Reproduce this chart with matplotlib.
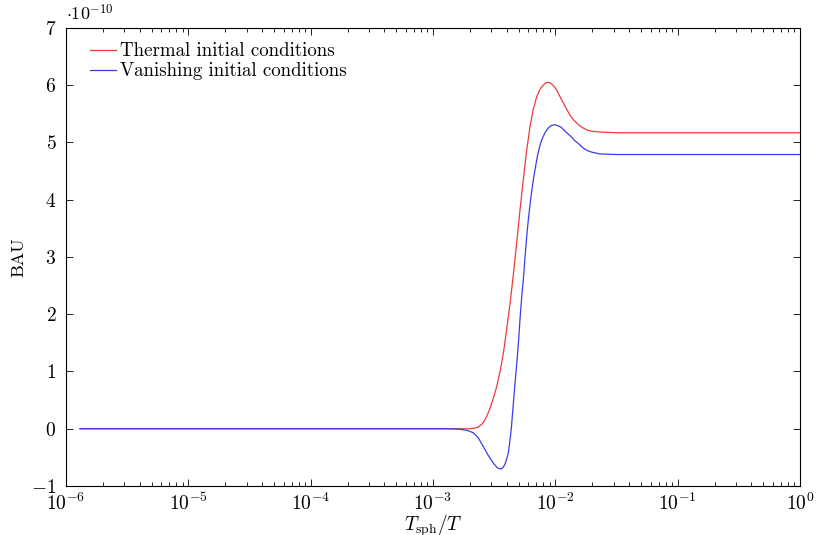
import numpy as np
import matplotlib
matplotlib.use('Agg')
import matplotlib.pyplot as plt

plt.rcParams['font.family'] = ['cmr10', 'DejaVu Serif']
plt.rcParams['mathtext.fontset'] = 'cm'
plt.rcParams['axes.unicode_minus'] = False

# curves: log10(Tsph/T) and BAU in units of 1e-10
red_logx = [-5.886, -2.9, -2.70, -2.66, -2.63, -2.60, -2.58, -2.561, -2.54,
            -2.52, -2.50, -2.479, -2.45, -2.425, -2.40, -2.370, -2.343, -2.316,
            -2.29, -2.262, -2.235, -2.207, -2.18, -2.152, -2.125, -2.10, -2.08,
            -2.062, -2.04, -2.01, -1.985, -1.962, -1.93, -1.90, -1.875, -1.853,
            -1.825, -1.80, -1.77, -1.743, -1.71, -1.68, -1.608, -1.5, 0.0]
red_bau = [0.0, 0.0, 0.0, 0.01, 0.03, 0.08, 0.14, 0.22, 0.32,
           0.45, 0.58, 0.74, 1.02, 1.32, 1.70, 2.19, 2.70, 3.24,
           3.80, 4.35, 4.85, 5.28, 5.58, 5.80, 5.93, 6.00, 6.04,
           6.05, 6.04, 5.98, 5.90, 5.80, 5.67, 5.55, 5.46, 5.40,
           5.34, 5.29, 5.25, 5.22, 5.20, 5.19, 5.18, 5.17, 5.17]

blue_logx = [-5.886, -2.9, -2.82, -2.779, -2.72, -2.670, -2.63, -2.589, -2.55,
             -2.507, -2.475, -2.455, -2.44, -2.425, -2.41, -2.395, -2.384,
             -2.373, -2.36, -2.343, -2.33, -2.315, -2.30, -2.289, -2.275,
             -2.26, -2.247, -2.234, -2.22, -2.205, -2.192, -2.180, -2.16,
             -2.145, -2.128, -2.111, -2.085, -2.06, -2.03, -2.003, -1.975,
             -1.95, -1.93, -1.907, -1.87, -1.84, -1.80, -1.771, -1.73, -1.70,
             -1.635, -1.5, 0.0]
blue_bau = [0.0, 0.0, -0.005, -0.01, -0.03, -0.07, -0.16, -0.31, -0.46,
            -0.60, -0.68, -0.70, -0.70, -0.67, -0.61, -0.51, -0.42,
            -0.24, 0.0, 0.45, 0.78, 1.15, 1.55, 1.91, 2.30,
            2.65, 3.02, 3.36, 3.67, 3.95, 4.17, 4.35, 4.60,
            4.78, 4.93, 5.05, 5.17, 5.25, 5.30, 5.31, 5.29,
            5.26, 5.22, 5.17, 5.10, 5.03, 4.96, 4.90, 4.85, 4.83,
            4.80, 4.79, 4.79]

labels = ['Thermal initial conditions', 'Vanishing initial conditions']
xticks = [1e-6, 1e-5, 1e-4, 1e-3, 1e-2, 1e-1, 1e0]
xticklabels = [r'$10^{-6}$', r'$10^{-5}$', r'$10^{-4}$', r'$10^{-3}$',
               r'$10^{-2}$', r'$10^{-1}$', r'$10^{0}$']
yticks = [-1, 0, 1, 2, 3, 4, 5, 6, 7]

fig = plt.figure(figsize=(8.16, 5.35), dpi=100)
ax = fig.add_axes([0.0809, 0.0916, 0.8995, 0.8561])

ax.plot(10 ** np.array(red_logx), red_bau, color='#ee3b3b', lw=0.9, label=labels[0])
ax.plot(10 ** np.array(blue_logx), blue_bau, color='#3b3bee', lw=0.9, label=labels[1])

ax.set_xscale('log')
ax.set_xlim(1e-6, 1e0)
ax.set_ylim(-1, 7)
ax.set_xticks(xticks)
ax.set_xticklabels(xticklabels, fontsize=14)
ax.set_yticks(yticks)
ax.set_yticklabels([r'$%d$' % v for v in yticks], fontsize=14)

ax.tick_params(which='both', direction='in', top=True, right=True, width=0.6)
ax.tick_params(which='major', length=5, pad=5)
ax.tick_params(axis='y', which='major', pad=7)
ax.tick_params(which='minor', length=3)
ax.minorticks_on()
ax.yaxis.set_minor_locator(matplotlib.ticker.NullLocator())
for s in ax.spines.values():
    s.set_linewidth(0.8)

ax.set_xlabel(r'$T_{\rm sph}/T$', fontsize=14, va='baseline')
ax.xaxis.set_label_coords(0.5, -0.097)
ax.set_ylabel('BAU', fontsize=13, labelpad=3)
ax.text(0.0, 1.01, r'$\cdot 10^{-10}$', transform=ax.transAxes, fontsize=13,
        ha='left', va='bottom')

ax.legend(loc='upper left', bbox_to_anchor=(0.022, 0.985), frameon=False,
          fontsize=13.6, handlelength=1.4, handletextpad=0.2,
          labelspacing=0.1, borderaxespad=0.0)

fig.savefig('out.png', dpi=100)
